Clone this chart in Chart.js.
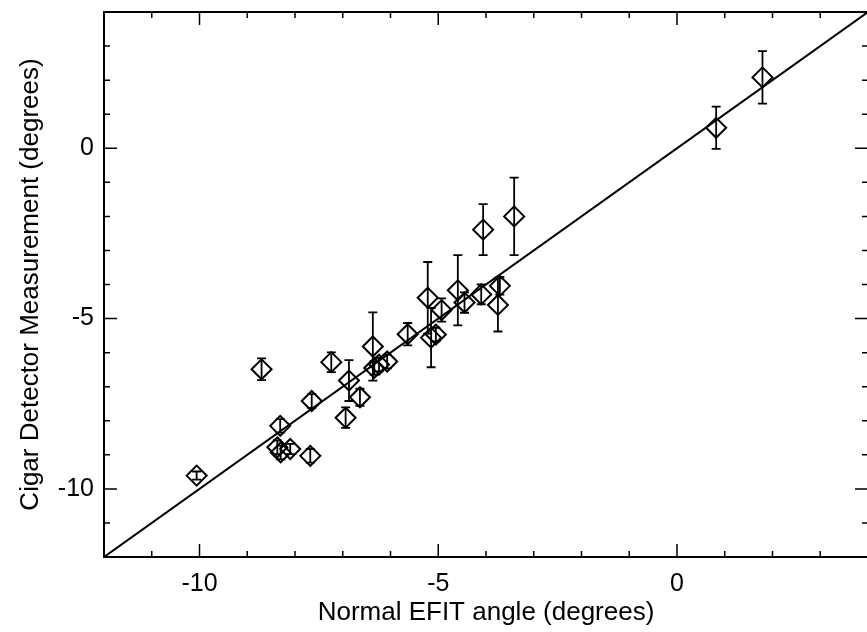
<!DOCTYPE html>
<html>
<head>
<meta charset="utf-8">
<title>Cigar Detector vs EFIT</title>
<script src="https://cdn.jsdelivr.net/npm/chart.js@4.4.1/dist/chart.umd.min.js"></script>
<style>
  html, body { margin: 0; padding: 0; background: #fff; overflow: hidden; }
  #wrap { width: 867px; height: 632px; overflow: hidden; }
</style>
</head>
<body>
<div id="wrap"><canvas id="myChart" width="880" height="632"></canvas></div>
<script>
// measured points (x = normal EFIT angle, y = cigar detector), degrees
const efitAngle = [-10.06, -8.70, -8.31, -8.37, -8.30, -8.10, -7.68, -7.65, -7.24, -6.87,
                   -6.94, -6.64, -6.37, -6.34, -6.24, -6.07, -5.64, -5.22, -5.15, -5.05,
                   -4.93, -4.59, -4.45, -4.10, -3.71, -3.75, -4.06, -3.41, 0.82, 1.79];
const cigarMeas = [-9.61, -6.49, -8.15, -8.78, -8.93, -8.83, -9.03, -7.42, -6.28, -6.82,
                   -7.91, -7.31, -5.82, -6.45, -6.35, -6.26, -5.46, -4.39, -5.56, -5.47,
                   -4.75, -4.17, -4.53, -4.29, -4.04, -4.60, -2.39, -2.00, 0.60, 2.08];
const cigarErr  = [0.12, 0.32, 0.20, 0.20, 0.20, 0.15, 0.20, 0.20, 0.29, 0.60,
                   0.30, 0.25, 1.00, 0.20, 0.20, 0.20, 0.33, 1.05, 0.87, 0.20,
                   0.34, 1.03, 0.30, 0.29, 0.26, 0.78, 0.75, 1.14, 0.62, 0.77];

// y = x reference line
const lineX = [-12, 4];
const lineY = [-12, 4];

// axes
const axisMin = -12;
const axisMax = 4;
const majorTicks = [-10, -5, 0];
const minorStep = 1;

const FONT = '"Liberation Sans", Arial, Helvetica, sans-serif';

const points = efitAngle.map((x, i) => ({ x: x, y: cigarMeas[i] }));
const linePts = lineX.map((x, i) => ({ x: x, y: lineY[i] }));

// error bars, frame and inward ticks on all 4 sides
const framePlugin = {
  id: 'frame',
  beforeDatasetsDraw(chart) {
    const ctx = chart.ctx;
    const xs = chart.scales.x, ys = chart.scales.y;
    ctx.save();
    ctx.strokeStyle = '#000';
    ctx.lineWidth = 1.8;
    for (let i = 0; i < efitAngle.length; i++) {
      const px = xs.getPixelForValue(efitAngle[i]);
      const top = ys.getPixelForValue(cigarMeas[i] + cigarErr[i]);
      const bot = ys.getPixelForValue(cigarMeas[i] - cigarErr[i]);
      ctx.beginPath();
      ctx.moveTo(px, top); ctx.lineTo(px, bot);
      ctx.moveTo(px - 4.5, top); ctx.lineTo(px + 4.5, top);
      ctx.moveTo(px - 4.5, bot); ctx.lineTo(px + 4.5, bot);
      ctx.stroke();
    }
    ctx.restore();
  },
  afterDraw(chart) {
    const ctx = chart.ctx;
    const a = chart.chartArea;
    const xs = chart.scales.x, ys = chart.scales.y;
    ctx.save();
    ctx.strokeStyle = '#000';
    ctx.lineWidth = 2;
    ctx.strokeRect(a.left, a.top, a.right - a.left, a.bottom - a.top);
    ctx.lineWidth = 1.5;
    ctx.beginPath();
    for (let v = axisMin + minorStep; v < axisMax; v += minorStep) {
      const len = majorTicks.indexOf(v) >= 0 ? 13 : 6;
      const px = xs.getPixelForValue(v);
      ctx.moveTo(px, a.bottom); ctx.lineTo(px, a.bottom - len);
      ctx.moveTo(px, a.top); ctx.lineTo(px, a.top + len);
      const py = ys.getPixelForValue(v);
      ctx.moveTo(a.left, py); ctx.lineTo(a.left + len, py);
      ctx.moveTo(a.right, py); ctx.lineTo(a.right - len, py);
    }
    ctx.stroke();
    ctx.restore();
  }
};

const ctx = document.getElementById('myChart').getContext('2d');
new Chart(ctx, {
  type: 'scatter',
  data: {
    datasets: [{
      type: 'line',
      data: linePts,
      borderColor: '#000',
      borderWidth: 2,
      pointRadius: 0,
      fill: false,
      tension: 0
    }, {
      data: points,
      pointStyle: 'rectRot',
      pointRadius: 10,
      borderColor: '#000',
      borderWidth: 2,
      backgroundColor: 'rgba(0,0,0,0)'
    }]
  },
  options: {
    responsive: false,
    animation: false,
    devicePixelRatio: 1,
    layout: { padding: { top: 8, right: 4, left: 0, bottom: 0 } },
    plugins: { legend: { display: false }, tooltip: { enabled: false } },
    scales: {
      x: {
        type: 'linear',
        min: axisMin,
        max: axisMax,
        afterBuildTicks: (axis) => { axis.ticks = majorTicks.map(v => ({ value: v })); },
        afterFit: (scale) => { scale.height = 75; scale.paddingLeft = 0; scale.paddingRight = 0; },
        grid: { display: false, drawTicks: false },
        border: { display: false },
        ticks: { color: '#000', padding: 12, maxRotation: 0, font: { family: FONT, size: 25 } },
        title: {
          display: true,
          text: 'Normal EFIT angle (degrees)',
          color: '#000',
          font: { family: FONT, size: 26 },
          padding: { top: 0, bottom: 4 }
        }
      },
      y: {
        type: 'linear',
        min: axisMin,
        max: axisMax,
        afterBuildTicks: (axis) => { axis.ticks = majorTicks.map(v => ({ value: v })); },
        afterFit: (scale) => { scale.width = 104; scale.paddingTop = 0; scale.paddingBottom = 0; },
        grid: { display: false, drawTicks: false },
        border: { display: false },
        ticks: { color: '#000', padding: 10, font: { family: FONT, size: 25 } },
        title: {
          display: true,
          text: 'Cigar Detector Measurement (degrees)',
          color: '#000',
          font: { family: FONT, size: 26 },
          padding: { top: 15, bottom: 0 }
        }
      }
    }
  },
  plugins: [framePlugin]
});
</script>
</body>
</html>
